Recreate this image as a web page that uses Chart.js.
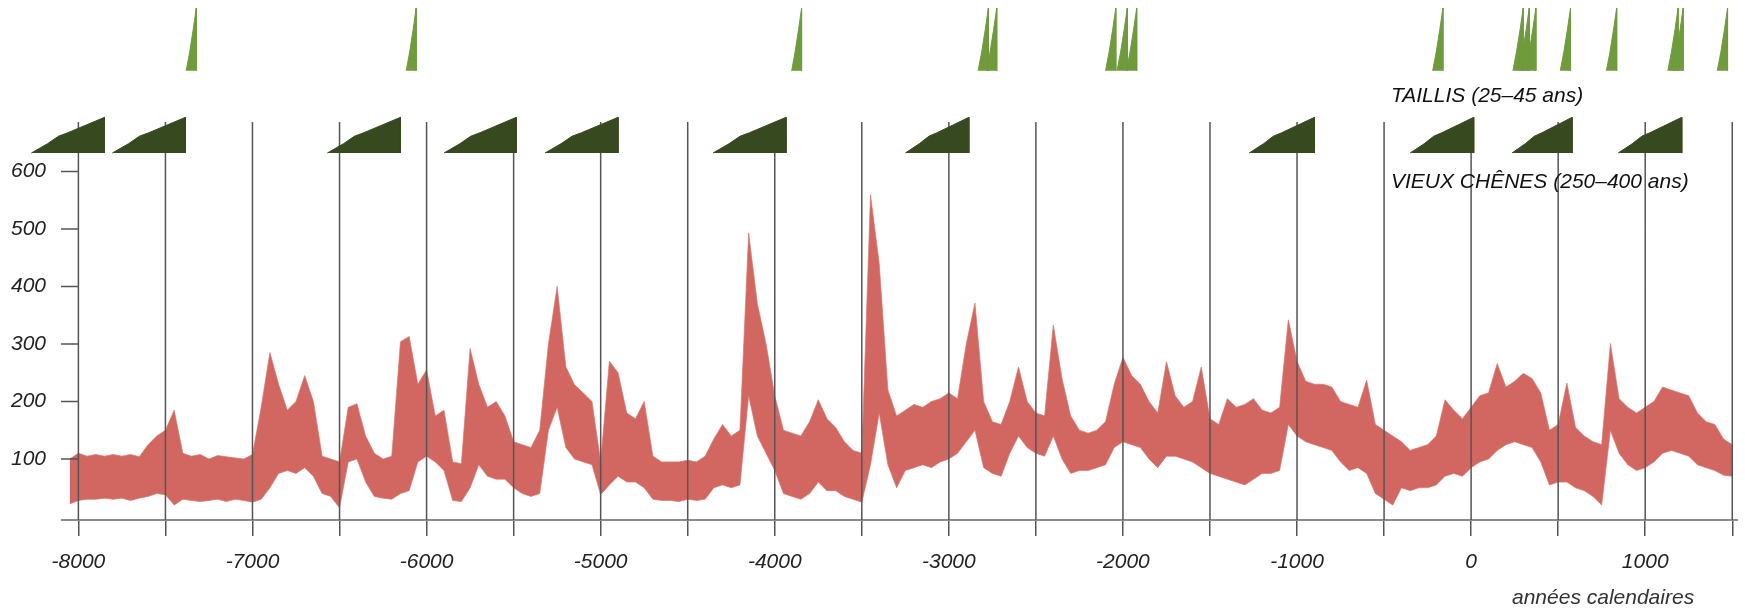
<!DOCTYPE html>
<html lang="fr">
<head>
<meta charset="utf-8">
<title>Incendies, taillis et vieux chênes</title>
<script src="https://cdn.jsdelivr.net/npm/chart.js@4.4.1/dist/chart.umd.min.js"></script>
<style>
  html, body { margin: 0; padding: 0; background: #fff; }
  #cadre { position: relative; width: 1745px; height: 609px; }
</style>
</head>
<body>
<div id="cadre"><canvas id="graphique"></canvas></div>
<script>
// Années calendaires (pas de 50 ans)
const annees = [
  -8050, -8000, -7950, -7900, -7850, -7800, -7750, -7700, -7650, -7600,
  -7550, -7500, -7450, -7400, -7350, -7300, -7250, -7200, -7150, -7100,
  -7050, -7000, -6950, -6900, -6850, -6800, -6750, -6700, -6650, -6600,
  -6550, -6500, -6450, -6400, -6350, -6300, -6250, -6200, -6150, -6100,
  -6050, -6000, -5950, -5900, -5850, -5800, -5750, -5700, -5650, -5600,
  -5550, -5500, -5450, -5400, -5350, -5300, -5250, -5200, -5150, -5100,
  -5050, -5000, -4950, -4900, -4850, -4800, -4750, -4700, -4650, -4600,
  -4550, -4500, -4450, -4400, -4350, -4300, -4250, -4200, -4150, -4100,
  -4050, -4000, -3950, -3900, -3850, -3800, -3750, -3700, -3650, -3600,
  -3550, -3500, -3450, -3400, -3350, -3300, -3250, -3200, -3150, -3100,
  -3050, -3000, -2950, -2900, -2850, -2800, -2750, -2700, -2650, -2600,
  -2550, -2500, -2450, -2400, -2350, -2300, -2250, -2200, -2150, -2100,
  -2050, -2000, -1950, -1900, -1850, -1800, -1750, -1700, -1650, -1600,
  -1550, -1500, -1450, -1400, -1350, -1300, -1250, -1200, -1150, -1100,
  -1050, -1000, -950, -900, -850, -800, -750, -700, -650, -600,
  -550, -500, -450, -400, -350, -300, -250, -200, -150, -100,
  -50, 0, 50, 100, 150, 200, 250, 300, 350, 400,
  450, 500, 550, 600, 650, 700, 750, 800, 850, 900,
  950, 1000, 1050, 1100, 1150, 1200, 1250, 1300, 1350, 1400,
  1450, 1500
];

// Enveloppe haute du signal
const valeursMax = [
  100, 110, 105, 108, 105, 108, 105, 108, 104, 125,
  140, 150, 185, 110, 105, 108, 100, 106, 104, 102,
  100, 108, 190, 285, 230, 185, 200, 245, 200, 105,
  100, 95, 190, 196, 140, 110, 100, 105, 304, 313,
  230, 255, 175, 185, 95, 92, 292, 230, 190, 200,
  175, 130, 125, 120, 150, 300, 400, 260, 229, 215,
  200, 95, 270, 250, 180, 170, 200, 105, 95, 95,
  95, 98, 95, 105, 135, 160, 140, 150, 493, 370,
  300, 210, 150, 145, 140, 165, 203, 170, 155, 130,
  115, 110, 559, 440, 220, 175, 185, 195, 190, 200,
  205, 215, 205, 300, 371, 200, 165, 160, 200, 260,
  200, 180, 175, 333, 240, 175, 150, 145, 150, 165,
  230, 277, 245, 230, 200, 180, 269, 210, 190, 200,
  260, 170, 160, 205, 190, 195, 205, 185, 180, 190,
  342, 270, 235, 230, 230, 225, 200, 195, 190, 237,
  160, 150, 140, 130, 115, 120, 125, 140, 203, 185,
  170, 190, 210, 215, 266, 225, 235, 249, 240, 215,
  150, 160, 232, 155, 140, 130, 125, 301, 205, 190,
  180, 190, 200, 225, 220, 215, 210, 180, 165, 160,
  135, 125
];

// Enveloppe basse du signal
const valeursMin = [
  22, 28, 30, 30, 32, 30, 32, 28, 32, 35,
  40, 38, 20, 30, 28, 26, 28, 30, 26, 30,
  28, 25, 30, 50, 75, 80, 75, 85, 70, 40,
  35, 15, 95, 100, 60, 35, 32, 30, 40, 45,
  95, 105, 95, 80, 28, 26, 50, 90, 70, 65,
  65, 50, 40, 35, 40, 150, 190, 120, 100, 95,
  90, 38, 55, 70, 60, 60, 50, 30, 28, 28,
  26, 30, 28, 30, 50, 55, 50, 55, 210, 140,
  110, 80, 40, 35, 30, 40, 60, 45, 45, 35,
  30, 25, 90, 180, 90, 50, 80, 85, 90, 85,
  95, 100, 110, 130, 150, 85, 75, 70, 110, 140,
  120, 110, 105, 140, 100, 75, 80, 80, 85, 90,
  120, 130, 125, 120, 100, 85, 105, 105, 100, 95,
  85, 75, 70, 65, 60, 55, 65, 75, 75, 80,
  160, 140, 130, 125, 120, 115, 95, 80, 85, 75,
  40, 30, 20, 50, 45, 50, 50, 55, 70, 75,
  70, 85, 95, 100, 115, 125, 130, 125, 120, 95,
  55, 60, 60, 50, 45, 35, 20, 150, 110, 90,
  80, 85, 95, 110, 115, 110, 105, 90, 85, 80,
  72, 70
];

// Vieux chênes (250-400 ans) : début et fin de chaque génération
const chenesDebut = [-8270, -7805, -6570, -5900, -5320, -4355, -3250, -1275, -350, 235, 845];
const chenesFin   = [-7850, -7385, -6150, -5485, -4900, -3935, -2885, -900, 15, 580, 1210];

// Taillis (25-45 ans)
const taillisDebut = [-7381, -6117, -3903, -2832, -2784, -2100, -2034, -1980, -221, 240, 275, 313, 512, 777, 1130, 1159, 1414];
const taillisFin   = [-7323, -6060, -3846, -2773, -2725, -2041, -1975, -1921, -162, 299, 334, 372, 571, 836, 1189, 1218, 1473];

// Graduations
const graduationsX = [-8000, -7500, -7000, -6500, -6000, -5500, -5000, -4500, -4000, -3500,
  -3000, -2500, -2000, -1500, -1000, -500, 0, 500, 1000, 1500];
const etiquettesX = [-8000, -7000, -6000, -5000, -4000, -3000, -2000, -1000, 0, 1000];
const graduationsY = [100, 200, 300, 400, 500, 600];

const POLICE = '"Liberation Sans", Arial, Helvetica, sans-serif';
const ROUGE = 'rgba(205, 90, 82, 0.92)';
const ROUGE_BORD = 'rgba(214, 118, 110, 0.7)';
const VERT_FONCE = '#37491f';
const VERT_CLAIR = '#6f9b3d';
const GRIS = '#555';

// bandes de dessin au-dessus de la courbe
const CHENE_BAS = 632, CHENE_HAUT = 694;
const TAILLIS_BAS = 775, TAILLIS_HAUT = 884;
const GRILLE_HAUT = 686;
const DEBUT_AXE = -8100;

const profilChene = [[0, 0], [0.22, 0.26], [0.37, 0.47], [0.5, 0.57], [1, 1]];
const profilTaillis = [[0, 0], [0.35, 0.3], [0.7, 0.66], [1, 1]];

function forme(debut, fin, bas, haut, profil) {
  const pts = profil.map(([f, h]) => ({ x: debut + f * (fin - debut), y: bas + h * (haut - bas) }));
  pts.push({ x: fin, y: bas });
  return pts;
}

function jeuForme(data, couleur, base) {
  return {
    data,
    borderColor: couleur,
    backgroundColor: couleur,
    borderWidth: 1,
    pointRadius: 0,
    tension: 0,
    fill: { value: base },
    order: 0
  };
}

const jeux = [];
chenesDebut.forEach((d, i) => jeux.push(jeuForme(forme(d, chenesFin[i], CHENE_BAS, CHENE_HAUT, profilChene), VERT_FONCE, CHENE_BAS)));
taillisDebut.forEach((d, i) => jeux.push(jeuForme(forme(d, taillisFin[i], TAILLIS_BAS, TAILLIS_HAUT, profilTaillis), VERT_CLAIR, TAILLIS_BAS)));

jeux.push({
  label: 'max',
  data: annees.map((a, i) => ({ x: a, y: valeursMax[i] })),
  borderColor: ROUGE_BORD,
  borderWidth: 1,
  pointRadius: 0,
  tension: 0,
  fill: false,
  order: 1
});
jeux.push({
  label: 'min',
  data: annees.map((a, i) => ({ x: a, y: valeursMin[i] })),
  borderColor: ROUGE_BORD,
  backgroundColor: ROUGE,
  borderWidth: 1,
  pointRadius: 0,
  tension: 0,
  fill: '-1',
  order: 1
});

const decor = {
  id: 'decor',
  beforeDatasetsDraw(chart) {
    const { ctx, chartArea, scales: { x } } = chart;
    ctx.save();
    ctx.strokeStyle = '#8c8c8c';
    ctx.lineWidth = 2;
    ctx.beginPath();
    ctx.moveTo(x.getPixelForValue(DEBUT_AXE), chartArea.bottom);
    ctx.lineTo(chartArea.right, chartArea.bottom);
    ctx.stroke();
    ctx.restore();
  },
  afterDatasetDraw(chart, args) {
    // la grille passe sur la courbe mais sous les chênes
    if (chart.data.datasets[args.index].label !== 'max') return;
    const { ctx, chartArea, scales: { x, y } } = chart;
    ctx.save();
    ctx.strokeStyle = GRIS;
    ctx.lineWidth = 1.5;
    ctx.beginPath();
    const haut = y.getPixelForValue(GRILLE_HAUT);
    graduationsX.forEach(v => {
      const px = x.getPixelForValue(v);
      ctx.moveTo(px, chartArea.bottom);
      ctx.lineTo(px, haut);
    });
    const x0 = x.getPixelForValue(DEBUT_AXE);
    const x1 = x.getPixelForValue(graduationsX[0]);
    graduationsY.forEach(v => {
      const py = y.getPixelForValue(v);
      ctx.moveTo(x0, py);
      ctx.lineTo(x1, py);
    });
    ctx.stroke();
    ctx.restore();
  },
  afterDraw(chart) {
    const { ctx } = chart;
    ctx.save();
    ctx.fillStyle = '#111';
    ctx.font = 'italic 21px ' + POLICE;
    ctx.textAlign = 'left';
    ctx.textBaseline = 'alphabetic';
    ctx.fillText('TAILLIS (25–45 ans)', 1391, 102);
    ctx.fillText('VIEUX CHÊNES (250–400 ans)', 1391, 188);
    ctx.fillStyle = '#333';
    ctx.fillText('années calendaires', 1512, 604);
    ctx.restore();
  }
};

new Chart(document.getElementById('graphique'), {
  type: 'line',
  data: { datasets: jeux },
  options: {
    responsive: true,
    maintainAspectRatio: false,
    animation: false,
    layout: { padding: { left: 0, right: 7, top: 0, bottom: 0 } },
    plugins: { legend: { display: false }, tooltip: { enabled: false } },
    scales: {
      x: {
        type: 'linear',
        min: -8280,
        max: 1533,
        border: { display: false },
        grid: { display: true, drawOnChartArea: false, drawTicks: true, tickLength: 16, color: GRIS, lineWidth: 1.5 },
        ticks: {
          autoSkip: false,
          maxRotation: 0,
          padding: 14,
          color: '#222',
          font: { family: POLICE, size: 21, style: 'italic' },
          callback: v => (etiquettesX.includes(v) ? String(v) : '')
        },
        afterBuildTicks: s => { s.ticks = graduationsX.map(v => ({ value: v })); },
        afterFit: s => { s.height = 89; s.paddingLeft = 0; s.paddingRight = 0; }
      },
      y: {
        type: 'linear',
        min: -6,
        max: 898,
        border: { display: false },
        grid: { display: false, drawTicks: false },
        ticks: {
          mirror: true,
          crossAlign: 'near',
          padding: -18.7,
          color: '#222',
          font: { family: POLICE, size: 21, style: 'italic' }
        },
        afterBuildTicks: s => { s.ticks = graduationsY.map(v => ({ value: v })); },
        afterFit: s => { s.width = 29.65; s.paddingTop = 0; s.paddingBottom = 0; }
      }
    }
  },
  plugins: [decor]
});
</script>
</body>
</html>
